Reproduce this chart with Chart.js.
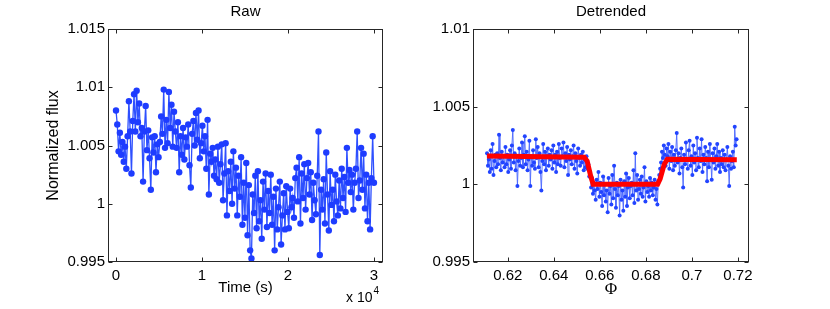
<!DOCTYPE html>
<html>
<head>
<meta charset="utf-8">
<script src="https://cdn.jsdelivr.net/npm/chart.js@4.4.1/dist/chart.umd.min.js"></script>
<style>
  html, body { margin: 0; padding: 0; background: #ffffff; }
  #wrap { position: relative; width: 830px; height: 309px; background: #ffffff; }
  canvas { position: absolute; top: 0; }
</style>
</head>
<body>
<div id="wrap">
  <canvas id="raw" width="415" height="309" style="left:0px;width:415px;height:309px"></canvas>
  <canvas id="det" width="415" height="309" style="left:415px;width:415px;height:309px"></canvas>
</div>
<script>
// ---------------- DATA ----------------
// Raw panel: time grid (s) starts at rawTimeStart, one sample every rawTimeStep
const rawTimeStart = 0;
const rawTimeStep = 150;
const rawFlux = [
  1.0080, 1.0068, 1.0045, 1.0061, 1.0042, 1.0053, 1.0036, 1.0049, 1.0030, 1.0058,
  1.0088, 1.0062, 1.0026, 1.0071, 1.0094, 1.0062, 1.0097, 1.0070, 1.0086, 1.0058,
  1.0065, 1.0019, 1.0062, 1.0084, 1.0046, 1.0063, 1.0039, 1.0012, 1.0057, 1.0044,
  1.0058, 1.0027, 1.0051, 1.0040, 1.0053, 1.0075, 1.0060, 1.0098, 1.0048, 1.0072,
  1.0052, 1.0096, 1.0065, 1.0085, 1.0049, 1.0079, 1.0062, 1.0048, 1.0070, 1.0027,
  1.0058, 1.0042, 1.0065, 1.0038, 1.0057, 1.0049, 1.0068, 1.0033, 1.0014, 1.0060,
  1.0071, 1.0050, 1.0078, 1.0055, 1.0080, 1.0039, 1.0052, 1.0067, 1.0045, 1.0058,
  1.0030, 1.0072, 1.0008, 1.0043, 1.0036, 1.0048, 1.0024, 1.0038, 1.0021, 1.0049,
  1.0018, 1.0034, 1.0051, 1.0003, 1.0026, 1.0052, 0.9990, 1.0028, 1.0011, 1.0036,
  1.0000, 1.0045, 1.0013, 1.0031, 0.9990, 1.0024, 1.0006, 1.0040, 0.9982, 1.0018,
  0.9988, 1.0035, 0.9973, 1.0016, 0.9960, 0.9953, 1.0008, 0.9992, 1.0024, 0.9979,
  1.0028, 0.9985, 1.0003, 0.9970, 1.0019, 0.9995, 1.0026, 0.9980, 1.0011, 0.9992,
  1.0025, 0.9982, 1.0006, 0.9960, 1.0013, 0.9978, 0.9997, 1.0019, 0.9965, 0.9990,
  1.0009, 0.9978, 1.0015, 0.9993, 0.9979, 1.0013, 0.9997, 1.0005, 0.9988, 1.0022,
  1.0031, 1.0002, 1.0040, 0.9983, 1.0026, 1.0005, 1.0034, 0.9995, 1.0022, 1.0035,
  1.0008, 1.0027, 0.9986, 1.0018, 1.0003, 0.9991, 1.0024, 1.0062, 0.9956, 1.0012,
  0.9995, 1.0021, 0.9983, 1.0044, 1.0008, 0.9977, 1.0028, 0.9999, 1.0012, 0.9985,
  1.0025, 1.0002, 0.9990, 1.0020, 0.9996, 1.0030, 1.0005, 1.0023, 0.9993, 1.0048,
  1.0018, 1.0029, 1.0010, 1.0025, 0.9995, 1.0018, 1.0030, 1.0062, 1.0005, 1.0020,
  1.0048, 1.0012, 1.0043, 0.9996, 1.0025, 0.9985, 1.0018, 0.9978, 1.0022, 1.0058,
  1.0018
];

// Detrended panel: phase grid starts at detPhaseStart, one sample every detPhaseStep
const detPhaseStart = 0.611;
const detPhaseStep = 0.0004;
const detFlux = [
  1.0020, 1.0012, 1.0016, 1.0008, 1.0022, 1.0010, 1.0026, 1.0006, 1.0015, 1.0019,
  1.0011, 1.0020, 1.0013, 1.0032, 1.0017, 1.0009, 1.0021, 1.0014, 1.0018, 1.0011,
  1.0024, 1.0013, 1.0019, 1.0008, 1.0016, 1.0022, 1.0010, 1.0025, 1.0035, 1.0014,
  1.0020, 1.0009, 1.0018, 0.9999, 1.0015, 1.0023, 1.0012, 1.0017, 1.0027, 1.0011,
  1.0019, 1.0031, 1.0013, 1.0021, 1.0009, 1.0016, 1.0028, 0.9999, 1.0018, 1.0012,
  1.0022, 1.0014, 1.0010, 1.0029, 1.0017, 1.0024, 1.0011, 1.0020, 1.0008, 0.9996,
  1.0015, 1.0026, 1.0013, 1.0021, 1.0009, 1.0018, 1.0023, 1.0012, 1.0019, 1.0016,
  1.0022, 1.0010, 1.0025, 1.0014, 1.0019, 1.0008, 1.0021, 1.0013, 1.0026, 1.0017,
  1.0012, 1.0023, 1.0018, 1.0027, 1.0011, 1.0020, 1.0015, 1.0024, 1.0006, 1.0019,
  1.0016, 1.0022, 1.0013, 1.0018, 1.0025, 1.0010, 1.0020, 1.0015, 1.0007, 1.0023,
  1.0017, 1.0012, 1.0019, 1.0014, 1.0021, 1.0009, 1.0016, 1.0011, 1.0018,
  1.0010, 1.0013, 1.0005, 1.0008, 0.9998, 1.0004, 0.9994, 1.0001, 0.9996,
  0.9990, 1.0003, 0.9997, 1.0008, 0.9992, 1.0001, 0.9995, 0.9986, 1.0005, 0.9993,
  1.0000, 0.9989, 0.9996, 0.9982, 1.0004, 0.9994, 0.9999, 0.9987, 1.0006, 0.9991,
  1.0012, 0.9997, 0.9985, 1.0001, 0.9993, 0.9999, 0.9980, 1.0003, 0.9990, 0.9996,
  0.9983, 1.0002, 0.9992, 1.0007, 0.9986, 0.9998, 1.0004, 0.9991, 0.9999, 1.0001,
  0.9993, 1.0009, 0.9988, 1.0020, 0.9996, 1.0006, 0.9990, 0.9997, 1.0003, 0.9994,
  1.0005, 0.9992, 0.9998, 1.0011, 0.9989, 1.0002, 0.9995, 0.9999, 0.9992, 1.0004,
  0.9996, 1.0001, 0.9993, 0.9998, 1.0003, 0.9990, 0.9997, 0.9987, 1.0002,
  1.0006, 1.0010, 1.0014, 1.0021, 1.0017, 1.0025, 1.0019, 1.0012, 1.0023,
  1.0018, 1.0026, 1.0010, 1.0021, 1.0015, 1.0024, 1.0009, 1.0019, 1.0012, 1.0022,
  1.0033, 1.0014, 1.0020, 1.0007, 1.0017, 1.0023, 1.0011, 0.9998, 1.0019, 1.0013,
  1.0027, 1.0016, 1.0010, 1.0022, 1.0028, 1.0012, 1.0018, 1.0006, 1.0025, 1.0014,
  1.0020, 1.0009, 1.0030, 1.0017, 1.0011, 1.0023, 1.0015, 1.0029, 1.0008, 1.0019,
  1.0013, 1.0024, 1.0017, 1.0002, 1.0021, 1.0011, 1.0026, 1.0016, 1.0003, 1.0020,
  1.0014, 1.0023, 1.0010, 1.0018, 1.0026, 1.0012, 1.0021, 1.0008, 1.0017, 1.0013,
  1.0022, 1.0011, 1.0019, 1.0009, 1.0016, 1.0024, 1.0012, 0.9999, 1.0018, 1.0010,
  1.0015, 1.0021, 1.0011, 1.0037, 1.0025, 1.0029
];

// Transit model (red curve) breakpoints
const modelPhase = [0.611, 0.6532, 0.6545, 0.6560, 0.6571, 0.6851, 0.6862, 0.6880, 0.6893, 0.7195];
const modelFlux  = [1.00182, 1.00175, 1.00150, 1.00055, 1.00000, 1.00000, 1.00035, 1.00130, 1.00162, 1.00158];

// Tick values / labels
const rawXTicks = [0, 10000, 20000, 30000];
const rawXTickLabels = ['0', '1', '2', '3'];
const rawYTicks = [0.995, 1.0, 1.005, 1.01, 1.015];
const rawYTickLabels = ['0.995', '1', '1.005', '1.01', '1.015'];
const detXTicks = [0.62, 0.64, 0.66, 0.68, 0.70, 0.72];
const detXTickLabels = ['0.62', '0.64', '0.66', '0.68', '0.7', '0.72'];
const detYTicks = [0.995, 1.0, 1.005, 1.01];
const detYTickLabels = ['0.995', '1', '1.005', '1.01'];

// ---------------- RENDERING ----------------
const FONT = '"Liberation Sans", Arial, Helvetica, sans-serif';
const FS = 15;

const matlabAxes = {
  id: 'matlabAxes',
  afterDraw(chart, args, o) {
    const { ctx, chartArea: a, scales } = chart;
    const x = scales.x, y = scales.y;
    ctx.save();
    ctx.strokeStyle = '#262626';
    ctx.lineWidth = 1;
    const L = Math.round(a.left) + 0.5, R = Math.round(a.right) - 0.5;
    const T = Math.round(a.top) + 0.5, B = Math.round(a.bottom) - 0.5;
    ctx.strokeRect(L, T, R - L, B - T);
    const tl = 4;
    ctx.beginPath();
    x.ticks.forEach(t => {
      const px = Math.round(x.getPixelForValue(t.value)) + 0.5;
      ctx.moveTo(px, B); ctx.lineTo(px, B - tl);
      ctx.moveTo(px, T); ctx.lineTo(px, T + tl);
    });
    y.ticks.forEach(t => {
      const py = Math.round(y.getPixelForValue(t.value)) + 0.5;
      ctx.moveTo(L, py); ctx.lineTo(L + tl, py);
      ctx.moveTo(R, py); ctx.lineTo(R - tl, py);
    });
    ctx.stroke();

    ctx.fillStyle = '#000000';
    ctx.textAlign = 'center';
    ctx.textBaseline = 'middle';
    const cx = (a.left + a.right) / 2;
    const cy = (a.top + a.bottom) / 2;
    // Title
    ctx.font = FS + 'px ' + FONT;
    ctx.fillText(o.title, cx, 12);
    // X label
    if (o.xlabelFont) ctx.font = o.xlabelFont;
    ctx.fillText(o.xlabel, cx, o.xlabelY);
    // Y label
    if (o.ylabel) {
      ctx.font = '16px ' + FONT;
      ctx.save();
      ctx.translate(o.ylabelX, cy);
      ctx.rotate(-Math.PI / 2);
      ctx.fillText(o.ylabel, 0, 0);
      ctx.restore();
    }
    // Exponent
    if (o.exponent) {
      ctx.textAlign = 'left';
      ctx.textBaseline = 'alphabetic';
      ctx.font = '14px ' + FONT;
      const bx = a.right - 37;
      ctx.fillText('x 10', bx, 302);
      const w = ctx.measureText('x 10').width;
      ctx.font = '10px ' + FONT;
      ctx.fillText(o.exponent, bx + w + 1, 294);
    }
    ctx.restore();
  }
};

function makeScales(xMin, xMax, xTicks, xLabels, yMin, yMax, yTicks, yLabels, yWidth) {
  return {
    x: {
      type: 'linear', min: xMin, max: xMax,
      afterBuildTicks: s => { s.ticks = xTicks.map(v => ({ value: v })); },
      afterFit: s => { s.height = 47; },
      ticks: {
        autoSkip: false, maxRotation: 0, padding: 5, color: '#000',
        font: { family: FONT, size: FS },
        callback: (v, i) => xLabels[i]
      },
      grid: { display: false, drawTicks: false },
      border: { display: false }
    },
    y: {
      type: 'linear', min: yMin, max: yMax,
      afterBuildTicks: s => { s.ticks = yTicks.map(v => ({ value: v })); },
      afterFit: s => { s.width = yWidth; },
      ticks: {
        autoSkip: false, padding: 3, color: '#000',
        font: { family: FONT, size: FS },
        callback: (v, i) => yLabels[i]
      },
      grid: { display: false, drawTicks: false },
      border: { display: false }
    }
  };
}

const rawPoints = rawFlux.map((f, i) => ({ x: rawTimeStart + i * rawTimeStep, y: f }));
const detPoints = detFlux.map((f, i) => ({ x: detPhaseStart + i * detPhaseStep, y: f }));
const modelPoints = modelFlux.map((f, i) => ({ x: modelPhase[i], y: f }));

new Chart(document.getElementById('raw'), {
  type: 'scatter',
  data: {
    datasets: [{
      data: rawPoints,
      showLine: true,
      borderColor: '#2e50ff',
      borderWidth: 1.3,
      pointRadius: 3.2,
      pointBackgroundColor: '#1e3cff',
      pointBorderWidth: 0,
      tension: 0
    }]
  },
  options: {
    responsive: false, animation: false,
    layout: { padding: { top: 29, right: 32, left: 0, bottom: 0 } },
    plugins: {
      legend: { display: false }, tooltip: { enabled: false },
      matlabAxes: { title: 'Raw', xlabel: 'Time (s)', xlabelY: 288, ylabel: 'Normalized flux', ylabelX: 54, exponent: '4' }
    },
    scales: makeScales(-930, 31050, rawXTicks, rawXTickLabels, 0.995, 1.015, rawYTicks, rawYTickLabels, 108)
  },
  plugins: [matlabAxes]
});

new Chart(document.getElementById('det'), {
  type: 'scatter',
  data: {
    datasets: [{
      data: modelPoints,
      showLine: true,
      borderColor: '#ff0000',
      borderWidth: 5,
      pointRadius: 0,
      tension: 0,
      order: 0
    }, {
      data: detPoints,
      showLine: true,
      borderColor: '#4a66ff',
      borderWidth: 0.9,
      pointRadius: 2,
      pointBackgroundColor: '#2244ff',
      pointBorderWidth: 0,
      tension: 0,
      order: 1
    }]
  },
  options: {
    responsive: false, animation: false,
    layout: { padding: { top: 29, right: 81, left: 0, bottom: 0 } },
    plugins: {
      legend: { display: false }, tooltip: { enabled: false },
      matlabAxes: { title: 'Detrended', xlabel: '\u03A6', xlabelY: 290, xlabelFont: '17px "Liberation Serif", "Times New Roman", serif' }
    },
    scales: makeScales(0.6049, 0.7248, detXTicks, detXTickLabels, 0.995, 1.01, detYTicks, detYTickLabels, 58)
  },
  plugins: [matlabAxes]
});
</script>
</body>
</html>
